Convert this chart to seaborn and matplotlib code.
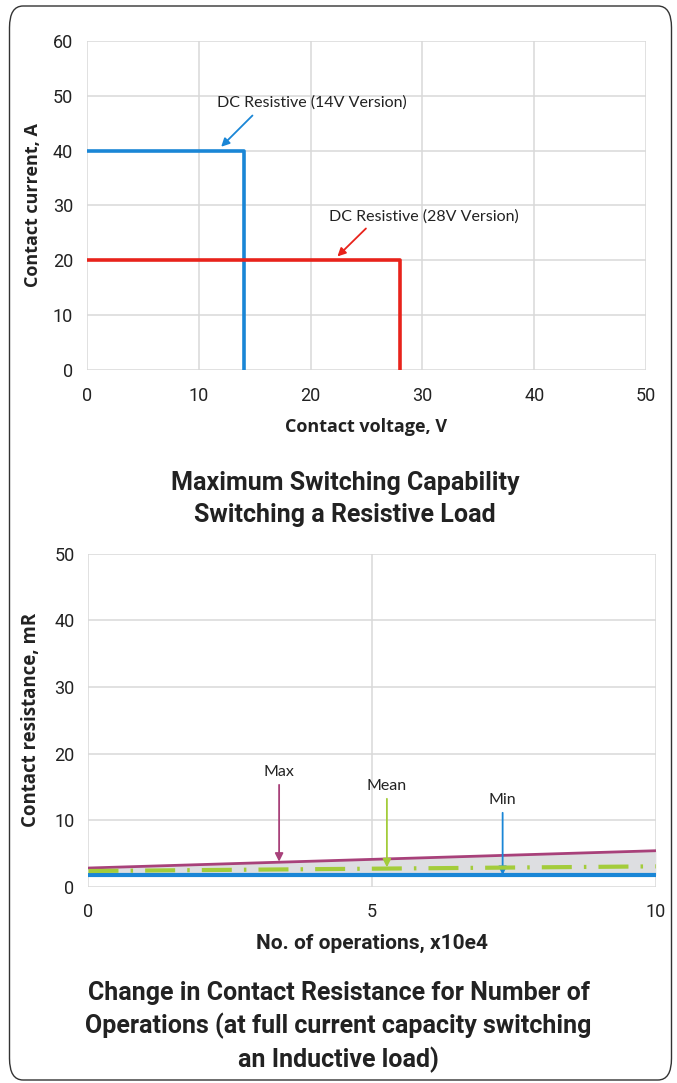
import numpy as np
import pandas as pd
import matplotlib
matplotlib.use("Agg")
import matplotlib.pyplot as plt
from matplotlib.patches import FancyBboxPatch
import seaborn as sns

# %% data

# top chart: max switching capability (step outlines)
v14 = [0, 14, 14]
i14 = [40, 40, 0]
v28 = [0, 28, 28]
i28 = [20, 20, 0]

# bottom chart: contact resistance vs operations
ops = [0, 10]
r_max = [2.8, 5.4]
r_mean = [2.35, 3.05]
r_min = [1.7, 1.7]

top_xticks = [0, 10, 20, 30, 40, 50]
top_yticks = [0, 10, 20, 30, 40, 50, 60]
bot_xticks = [0, 5, 10]
bot_yticks = [0, 10, 20, 30, 40, 50]

sns.set_theme(style="white")
plt.rcParams['font.family'] = ['Roboto', 'DejaVu Sans']

cond = ['Roboto', 'DejaVu Sans']
ann = ['Lato', 'DejaVu Sans']
wide = ['Open Sans', 'DejaVu Sans']
grid_c = "#d9d9d9"
txt_c = "#222222"

fig = plt.figure(figsize=(6.77, 10.83), dpi=100)

# rounded frame round everything
frame = FancyBboxPatch((9.5 / 677, 3 / 1083), 662 / 677, 1074 / 1083,
                       boxstyle="round,pad=0,rounding_size=0.02",
                       transform=fig.transFigure, fill=False,
                       edgecolor="#333333", linewidth=1.0)
fig.patches.append(frame)


def style_axes(ax):
    ax.grid(True, color=grid_c, lw=1.1)
    ax.set_axisbelow(True)
    for s in ax.spines.values():
        s.set_visible(False)
    ax.tick_params(axis="both", length=5, width=1.1, color=grid_c,
                   labelsize=13, labelcolor=txt_c)
    ax.tick_params(axis="x", pad=7)
    ax.tick_params(axis="y", pad=5)
    for t in ax.get_xticklabels() + ax.get_yticklabels():
        t.set_family(cond)


def arrow(ax, tail, tip, color):
    # plain arrow, text placed on its own
    ax.annotate("", xy=tip, xytext=tail,
                arrowprops=dict(arrowstyle="-|>", color=color, lw=1.3,
                                shrinkA=0, shrinkB=0, mutation_scale=12))


# %% top chart
ax1 = fig.add_axes([0.1285, 0.6584, 0.8257, 0.3038])
df14 = pd.DataFrame({"v": v14, "i": i14})
df28 = pd.DataFrame({"v": v28, "i": i28})
sns.lineplot(data=df14, x="v", y="i", sort=False, estimator=None,
             color="#1a86d6", lw=2.6, ax=ax1)
sns.lineplot(data=df28, x="v", y="i", sort=False, estimator=None,
             color="#e8231b", lw=2.6, ax=ax1)

ax1.set_xlim(0, 50)
ax1.set_ylim(0, 60)
ax1.set_xticks(top_xticks)
ax1.set_yticks(top_yticks)
style_axes(ax1)
ax1.set_xlabel("Contact voltage, V", fontsize=13, fontweight="bold", family=wide, color=txt_c)
ax1.set_ylabel("Contact current, A", fontsize=13, fontweight="bold", family=wide, color=txt_c)
ax1.xaxis.set_label_coords(0.5, -0.147)
ax1.yaxis.set_label_coords(-0.081, 0.5)

ax1.text(20.1, 48.7, "DC Resistive (14V Version)", ha="center", va="center",
         fontsize=11.5, family=ann, color=txt_c)
arrow(ax1, (14.8, 46.4), (12.0, 40.7), "#1a86d6")
ax1.text(30.1, 28.0, "DC Resistive (28V Version)", ha="center", va="center",
         fontsize=11.5, family=ann, color=txt_c)
arrow(ax1, (24.95, 25.8), (22.4, 20.7), "#e8231b")

fig.text(0.51, 1 - 499 / 1083, "Maximum Switching Capability\nSwitching a Resistive Load",
         ha="center", va="center", fontsize=18, fontweight="bold",
         family=cond, color=txt_c, linespacing=1.38)

# %% bottom chart
ax2 = fig.add_axes([0.1307, 0.1813, 0.838, 0.3072])
ax2.fill_between(ops, r_min, r_max, color="#dddee1", lw=0, zorder=1)
dfb = pd.DataFrame({"ops": ops, "max": r_max, "mean": r_mean, "min": r_min})
sns.lineplot(data=dfb, x="ops", y="min", estimator=None, color="#1a86d6", lw=3.0, ax=ax2, zorder=3)
sns.lineplot(data=dfb, x="ops", y="max", estimator=None, color="#a8417a", lw=2.0, ax=ax2, zorder=3)
sns.lineplot(data=dfb, x="ops", y="mean", estimator=None, color="#a3cc3a", lw=3.0, ax=ax2, zorder=4,
             linestyle=(0, (7.2, 2.9, 0.6, 2.9)))

ax2.set_xlim(0, 10)
ax2.set_ylim(0, 50)
ax2.set_xticks(bot_xticks)
ax2.set_yticks(bot_yticks)
style_axes(ax2)
ax2.set_xlabel("No. of operations, x10e4", fontsize=15, fontweight="bold",
               family=cond, color=txt_c)
ax2.set_ylabel("Contact resistance, mR", fontsize=13.4, fontweight="bold",
               family=wide, color=txt_c)
ax2.xaxis.set_label_coords(0.5, -0.142)
ax2.yaxis.set_label_coords(-0.083, 0.5)

ax2.text(3.36, 17.3, "Max", ha="center", va="center", fontsize=11.5, family=ann, color=txt_c)
arrow(ax2, (3.36, 15.3), (3.36, 3.75), "#a8417a")
ax2.text(5.26, 15.1, "Mean", ha="center", va="center", fontsize=11.5, family=ann, color=txt_c)
arrow(ax2, (5.26, 13.2), (5.26, 2.9), "#a3cc3a")
ax2.text(7.3, 13.0, "Min", ha="center", va="center", fontsize=11.5, family=ann, color=txt_c)
arrow(ax2, (7.3, 11.1), (7.3, 1.75), "#1a86d6")

fig.text(0.50, 1 - 1027 / 1083,
         "Change in Contact Resistance for Number of\nOperations (at full current capacity switching\nan Inductive load)",
         ha="center", va="center", fontsize=18, fontweight="bold",
         family=cond, color=txt_c, linespacing=1.36)

fig.savefig("out.png", dpi=100)
